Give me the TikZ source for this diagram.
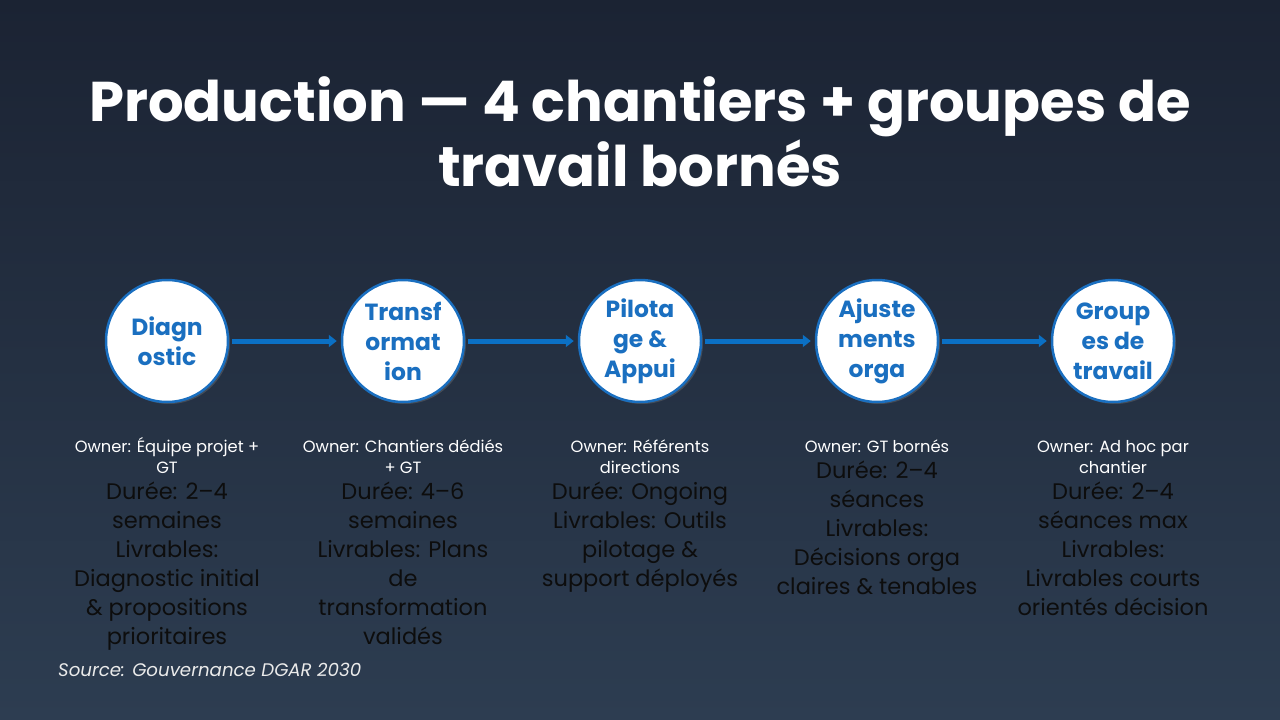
\documentclass[tikz,border=0pt]{standalone}
\usepackage{fontspec}
\setmainfont{Poppins}
\usetikzlibrary{positioning,shadows,arrows.meta}
\definecolor{bgtop}{HTML}{1B2333}
\definecolor{bgbot}{HTML}{2D3D51}
\definecolor{stepblue}{HTML}{1A6FC0}
\definecolor{arrowblue}{HTML}{0B70C4}
\definecolor{deeptext}{HTML}{0D0D0D}
\newcommand{\ownerline}{\vphantom{É}Owner: }
\tikzset{
	phase/.style = {circle, draw = stepblue, line width = 2.5pt, fill = white, minimum size = 122pt, inner sep = 0pt, align = center, text = stepblue, font = \bfseries\fontsize{23.4}{30}\selectfont, drop shadow = {opacity = 0.35, shadow xshift = 2pt, shadow yshift = -2pt}},
	owner/.style = {align = center, text = white, font = \fontsize{16.3}{21}\selectfont, anchor = north, inner sep = 0pt},
	detail/.style = {align = center, text = deeptext, font = \fontsize{22.5}{29}\selectfont, anchor = north, inner sep = 0pt},
	flow/.style = {arrowblue, line width = 5pt, -{Triangle[length = 8pt, width = 12pt]}, shorten <= 3pt, shorten >= 4pt}
}
\begin{document}
\begin{tikzpicture}[x = 1pt, y = -1pt]%chantiers
	\shade[top color = bgtop, bottom color = bgbot] (0,0) rectangle (1280,720);
	\useasboundingbox (0,0) rectangle (1280,720);
	\node[text = white, align = center, font = \bfseries\fontsize{56}{65}\selectfont] (title) at (640,132) {Production — 4 chantiers + groupes de\\travail bornés};
	\node[phase] (diag) at (167,341) {Diagn\\ostic};
	\node[phase] (trans) at (403,341) {Transf\\ormat\\ion};
	\node[phase] (pilot) at (640,341) {Pilota\\ge \&\\Appui};
	\node[phase] (ajust) at (877,341) {Ajuste\\ments\\orga};
	\node[phase] (group) at (1113,341) {Group\\es de\\travail};
	\draw[flow] (diag) -- (trans);
	\draw[flow] (trans) -- (pilot);
	\draw[flow] (pilot) -- (ajust);
	\draw[flow] (ajust) -- (group);
	\node[owner] (diagown) at (167,437) {\ownerline Équipe projet +\\GT};
	\node[owner] (transown) at (403,437) {\ownerline Chantiers dédiés\\+ GT};
	\node[owner] (pilotown) at (640,437) {\ownerline Référents\\directions};
	\node[owner] (ajustown) at (877,437) {\ownerline GT bornés};
	\node[owner] (groupown) at (1113,437) {\ownerline Ad hoc par\\chantier};
	\node[detail, below = 8pt of diagown] (diagtxt) {Durée: 2–4\\semaines\\Livrables:\\Diagnostic initial\\\& propositions\\prioritaires};
	\node[detail, below = 8pt of transown] (transtxt) {Durée: 4–6\\semaines\\Livrables: Plans\\de\\transformation\\validés};
	\node[detail, below = 8pt of pilotown] (pilottxt) {Durée: Ongoing\\Livrables: Outils\\pilotage \&\\support déployés};
	\node[detail, below = 8pt of ajustown] (ajusttxt) {Durée: 2–4\\séances\\Livrables:\\Décisions orga\\claires \& tenables};
	\node[detail, below = 8pt of groupown] (grouptxt) {Durée: 2–4\\séances max\\Livrables:\\Livrables courts\\orientés décision};
	\node[anchor = base west, inner sep = 0pt, text = white!92!black, font = \itshape\fontsize{18.2}{23}\selectfont] (source) at (58,676) {Source: Gouvernance DGAR 2030};
\end{tikzpicture}
\end{document}
